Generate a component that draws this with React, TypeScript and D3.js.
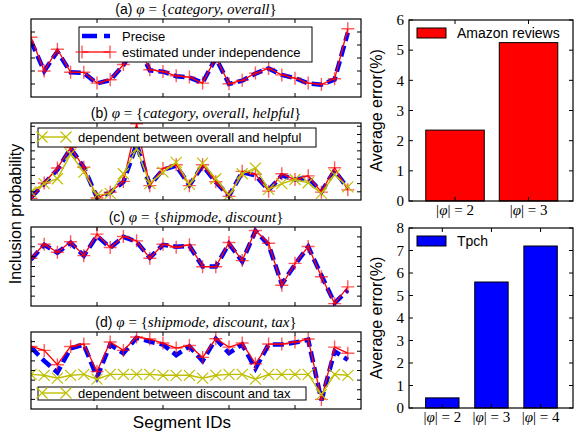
import React from 'react';
import * as d3 from 'd3';

const W = 582;
const H = 437;

// ---------- data ----------
const segmentIds = d3.range(25);

const aPrecise = [4.3, 2.0, 3.5, 1.9, 1.85, 1.05, 1.3, 2.45, 4.1, 2.05, 1.95, 1.6, 1.5, 1.1, 3.0, 1.0, 1.25, 1.8, 2.2, 1.7, 1.45, 1.05, 0.95, 1.35, 4.95];
const aEstimated = [4.6, 2.0, 3.67, 1.9, 1.9, 1.07, 1.33, 2.5, 4.15, 2.1, 1.96, 1.63, 1.53, 1.07, 3.05, 1.02, 1.28, 1.84, 2.2, 1.7, 1.45, 1.07, 0.97, 1.4, 5.25];

const bPrecise = [0.3, 2.0, 3.7, 6.3, 4.0, 0.3, 0.9, 2.2, 6.8, 1.8, 3.7, 4.2, 1.8, 4.2, 2.2, 0.5, 3.4, 3.0, 1.2, 3.0, 2.5, 2.7, 1.0, 3.6, 1.4];
const bEstimated = [0.2, 2.07, 3.9, 6.4, 4.0, 0.24, 0.95, 2.27, 9.3, 1.75, 3.86, 4.3, 1.75, 4.3, 2.23, 0.44, 3.5, 3.15, 1.08, 3.2, 2.5, 2.95, 0.96, 3.94, 1.24];
const bDependent = [1.0, 2.0, 2.6, 5.6, 3.4, 0.6, 0.8, 3.2, 6.3, 2.0, 3.4, 4.6, 1.9, 4.5, 2.6, 0.6, 3.2, 3.9, 1.3, 2.0, 2.5, 2.1, 0.8, 3.1, 1.6];

const cPrecise = [4.7, 6.2, 5.4, 6.4, 5.1, 7.1, 5.9, 7.0, 6.5, 4.9, 6.2, 6.0, 6.1, 4.0, 4.0, 6.3, 4.5, 7.6, 6.2, 2.2, 4.2, 6.0, 3.1, 0.3, 1.6];
const cEstimated = [4.83, 6.26, 5.44, 6.5, 5.1, 7.28, 5.92, 7.04, 6.6, 4.83, 6.26, 5.95, 6.19, 3.98, 3.98, 6.43, 4.6, 7.65, 6.36, 2.1, 4.32, 6.02, 2.96, 0.24, 1.94];

const dPrecise = [6.4, 5.0, 3.8, 6.3, 6.7, 3.3, 6.7, 5.8, 7.4, 7.0, 6.7, 5.6, 6.5, 5.0, 7.3, 5.8, 6.7, 4.2, 6.7, 6.7, 6.9, 7.2, 0.9, 6.0, 5.1];
const dEstimated = [6.5, 6.09, 4.6, 6.5, 6.75, 3.9, 6.96, 6.09, 7.48, 7.27, 6.85, 6.33, 6.6, 5.36, 7.3, 6.43, 6.85, 4.7, 6.75, 6.75, 6.96, 7.27, 1.0, 6.43, 5.8];
const dDependent = [3.6, 3.5, 3.2, 3.5, 3.6, 3.1, 3.6, 3.6, 3.6, 3.6, 3.5, 3.5, 3.5, 3.2, 3.5, 3.6, 3.6, 3.1, 3.6, 3.6, 3.6, 3.6, 1.5, 3.6, 3.5];

const titleA = ['category', 'overall'];
const titleB = ['category', 'overall', 'helpful'];
const titleC = ['shipmode', 'discount'];
const titleD = ['shipmode', 'discount', 'tax'];

const xTickValues = [5, 10, 15, 20];

const amazonPhi = [2, 3];
const amazonErrors = [2.35, 5.25];
const amazonTicks = [0, 1, 2, 3, 4, 5, 6];

const tpchPhi = [2, 3, 4];
const tpchErrors = [0.45, 5.6, 7.2];
const tpchTicks = [0, 1, 2, 3, 4, 5, 6, 7, 8];

// ---------- style ----------
const SANS = 'Liberation Sans, Arial, sans-serif';
const SERIF = 'Liberation Serif, DejaVu Serif, serif';
const BLUE = '#0000ff';
const RED = '#ff0000';
const YEL = '#bfbf00';

const plusPath = (x: number, y: number, s: number) => {
  const h = s / 2;
  return `M${x - h},${y}H${x + h}M${x},${y - h}V${y + h}`;
};
const xPath = (x: number, y: number, s: number) => {
  const h = s / 2;
  return `M${x - h},${y - h}L${x + h},${y + h}M${x - h},${y + h}L${x + h},${y - h}`;
};

const LEFT = 31;
const RIGHT = 361;

type Series = { values: number[]; kind: 'precise' | 'estimated' | 'dependent' };

function Title({ x, y, letter, attrs }: { x: number; y: number; letter: string; attrs: string[] }) {
  return (
    <text x={x} y={y} textAnchor="middle" fontSize={15} fill="#000">
      <tspan fontFamily={SANS} fontSize={14}>({letter}) </tspan>
      <tspan fontFamily={SERIF} fontStyle="italic">φ</tspan>
      <tspan fontFamily={SERIF}> = {'{'}</tspan>
      <tspan fontFamily={SERIF} fontStyle="italic">{attrs.join(', ')}</tspan>
      <tspan fontFamily={SERIF}>{'}'}</tspan>
    </text>
  );
}

function LinePanel({
  id, top, bottom, yMax, yTicks, series, letter, attrs, legend,
}: {
  id: string; top: number; bottom: number; yMax: number; yTicks: number[];
  series: Series[]; letter: string; attrs: string[]; legend: React.ReactNode;
}) {
  const x = d3.scaleLinear().domain([0, 25]).range([LEFT, RIGHT]);
  const y = d3.scaleLinear().domain([0, yMax]).range([bottom, top]);
  const line = d3.line<number>().x((_, i) => x(segmentIds[i])).y((d) => y(d));
  const tl = 4;
  return (
    <g>
      <defs>
        <clipPath id={`clip-${id}`}>
          <rect x={LEFT} y={top} width={RIGHT - LEFT} height={bottom - top} />
        </clipPath>
      </defs>
      <g clipPath={`url(#clip-${id})`}>
        {series.map((s, k) => {
          if (s.kind === 'precise') {
            return <path key={k} d={line(s.values) || ''} fill="none" stroke={BLUE} strokeWidth={4.5} strokeDasharray="11,5" />;
          }
          if (s.kind === 'estimated') {
            return (
              <g key={k}>
                <path d={line(s.values) || ''} fill="none" stroke={RED} strokeWidth={1.3} />
                <path d={s.values.map((v, i) => plusPath(x(segmentIds[i]), y(v), 13)).join('')} fill="none" stroke={RED} strokeOpacity={0.65} strokeWidth={1.4} />
              </g>
            );
          }
          return (
            <g key={k}>
              <path d={line(s.values) || ''} fill="none" stroke={YEL} strokeWidth={1.4} />
              <path d={s.values.map((v, i) => xPath(x(segmentIds[i]), y(v), 11)).join('')} fill="none" stroke={YEL} strokeWidth={1.2} />
            </g>
          );
        })}
      </g>
      {xTickValues.map((t) => (
        <g key={`xt${t}`} stroke="#000" strokeWidth={1}>
          <line x1={x(t)} x2={x(t)} y1={bottom} y2={bottom - tl} />
          <line x1={x(t)} x2={x(t)} y1={top} y2={top + tl} />
        </g>
      ))}
      {yTicks.map((t) => (
        <g key={`yt${t}`} stroke="#000" strokeWidth={1}>
          <line x1={LEFT} x2={LEFT + tl} y1={y(t)} y2={y(t)} />
          <line x1={RIGHT} x2={RIGHT - tl} y1={y(t)} y2={y(t)} />
        </g>
      ))}
      <rect x={LEFT} y={top} width={RIGHT - LEFT} height={bottom - top} fill="none" stroke="#000" strokeWidth={1.2} />
      <Title x={(LEFT + RIGHT) / 2} y={top - 5} letter={letter} attrs={attrs} />
      {legend}
    </g>
  );
}

function LegendBox({ x, y, w, h, children }: { x: number; y: number; w: number; h: number; children: React.ReactNode }) {
  return (
    <g>
      <rect x={x} y={y} width={w} height={h} fill="#fff" stroke="#000" strokeWidth={1} />
      {children}
    </g>
  );
}

function BarPanel({
  top, bottom, phi, errors, ticks, yMax, color, label, pad,
}: {
  top: number; bottom: number; phi: number[]; errors: number[]; ticks: number[];
  yMax: number; color: string; label: string; pad: [number, number, number];
}) {
  const left = 409;
  const right = 573;
  const [padL, padR, width] = pad;
  const x = d3.scaleLinear().domain([-padL, phi.length - 1 + padR]).range([left, right]);
  const y = d3.scaleLinear().domain([0, yMax]).range([bottom, top]);
  const bw = x(width) - x(0);
  const tl = 4;
  return (
    <g>
      {errors.map((v, i) => (
        <rect key={i} x={x(i) - bw / 2} y={y(v)} width={bw} height={y(0) - y(v)} fill={color} stroke="#000" strokeWidth={1} />
      ))}
      {ticks.map((t) => (
        <g key={t}>
          <line x1={left} x2={left + tl} y1={y(t)} y2={y(t)} stroke="#000" />
          <line x1={right} x2={right - tl} y1={y(t)} y2={y(t)} stroke="#000" />
          <text x={left - 5} y={y(t)} dy="0.35em" textAnchor="end" fontFamily={SERIF} fontSize={15} fill="#000">{t}</text>
        </g>
      ))}
      {phi.map((p, i) => (
        <g key={p}>
          <line x1={x(i)} x2={x(i)} y1={bottom} y2={bottom - tl} stroke="#000" />
          <line x1={x(i)} x2={x(i)} y1={top} y2={top + tl} stroke="#000" />
          <text x={x(i)} y={bottom + 14} textAnchor="middle" fontFamily={SERIF} fontSize={15} fill="#000">
            <tspan>|</tspan><tspan fontStyle="italic">φ</tspan><tspan>| = {p}</tspan>
          </text>
        </g>
      ))}
      <rect x={left} y={top} width={right - left} height={bottom - top} fill="none" stroke="#000" strokeWidth={1.2} />
      <rect x={417} y={top + 8} width={29} height={10} fill={color} stroke="#000" strokeWidth={1} />
      <text x={457} y={top + 18} fontFamily={SANS} fontSize={14} fill="#000">{label}</text>
      <text transform={`translate(${382},${(top + bottom) / 2}) rotate(-90)`} textAnchor="middle" fontFamily={SANS} fontSize={16} fill="#000">Average error(%)</text>
    </g>
  );
}

export default function App() {
  return (
    <svg width={W} height={H} style={{ position: 'absolute', left: 0, top: 0, background: '#fff' }}>
      <rect x={0} y={0} width={W} height={H} fill="#fff" />
      <LinePanel
        id="a" top={19} bottom={97} yMax={6} yTicks={[1, 2, 3, 4, 5]}
        series={[{ values: aPrecise, kind: 'precise' }, { values: aEstimated, kind: 'estimated' }]}
        letter="a" attrs={titleA}
        legend={
          <LegendBox x={79} y={27} w={233} h={35}>
            <line x1={82} x2={110} y1={36} y2={36} stroke={BLUE} strokeWidth={4.5} strokeDasharray="15,7" />
            <text x={122} y={41} fontFamily={SANS} fontSize={13}>Precise</text>
            <line x1={82} x2={110} y1={52} y2={52} stroke={RED} strokeWidth={1.3} />
            <path d={plusPath(82, 52, 13) + plusPath(110, 52, 13)} stroke={RED} strokeOpacity={0.65} strokeWidth={1.4} fill="none" />
            <text x={122} y={57} fontFamily={SANS} fontSize={13}>estimated under independence</text>
          </LegendBox>
        }
      />
      <LinePanel
        id="b" top={123} bottom={200} yMax={9.4} yTicks={[1, 2, 3, 4, 5, 6, 7, 8, 9]}
        series={[{ values: bPrecise, kind: 'precise' }, { values: bEstimated, kind: 'estimated' }, { values: bDependent, kind: 'dependent' }]}
        letter="b" attrs={titleB}
        legend={
          <LegendBox x={38} y={128} w={278} h={19}>
            <line x1={42} x2={66} y1={137} y2={137} stroke={YEL} strokeWidth={1.4} />
            <path d={xPath(42, 137, 11) + xPath(66, 137, 11)} stroke={YEL} strokeWidth={1.2} fill="none" />
            <text x={78} y={142} fontFamily={SANS} fontSize={13}>dependent between overall and helpful</text>
          </LegendBox>
        }
      />
      <LinePanel
        id="c" top={227} bottom={306} yMax={8} yTicks={[1, 2, 3, 4, 5, 6, 7]}
        series={[{ values: cPrecise, kind: 'precise' }, { values: cEstimated, kind: 'estimated' }]}
        letter="c" attrs={titleC}
        legend={null}
      />
      <LinePanel
        id="d" top={332} bottom={409} yMax={8} yTicks={[1, 2, 3, 4, 5, 6, 7]}
        series={[{ values: dPrecise, kind: 'precise' }, { values: dEstimated, kind: 'estimated' }, { values: dDependent, kind: 'dependent' }]}
        letter="d" attrs={titleD}
        legend={
          <LegendBox x={38} y={387} w={268} h={13}>
            <line x1={42} x2={66} y1={393} y2={393} stroke={YEL} strokeWidth={1.4} />
            <path d={xPath(42, 393, 11) + xPath(66, 393, 11)} stroke={YEL} strokeWidth={1.2} fill="none" />
            <text x={78} y={398} fontFamily={SANS} fontSize={13}>dependent between discount and tax</text>
          </LegendBox>
        }
      />
      <text transform={`translate(${21},${214}) rotate(-90)`} textAnchor="middle" fontFamily={SANS} fontSize={16} fill="#000">Inclusion probability</text>
      <text x={182} y={428} textAnchor="middle" fontFamily={SANS} fontSize={17} fill="#000">Segment IDs</text>

      <BarPanel top={20} bottom={201} phi={amazonPhi} errors={amazonErrors} ticks={amazonTicks} yMax={6} color={RED} label="Amazon reviews" pad={[0.626, 0.605, 0.796]} />
      <BarPanel top={228} bottom={408} phi={tpchPhi} errors={tpchErrors} ticks={tpchTicks} yMax={8} color={BLUE} label="Tpch" pad={[0.678, 0.66, 0.68]} />
    </svg>
  );
}
